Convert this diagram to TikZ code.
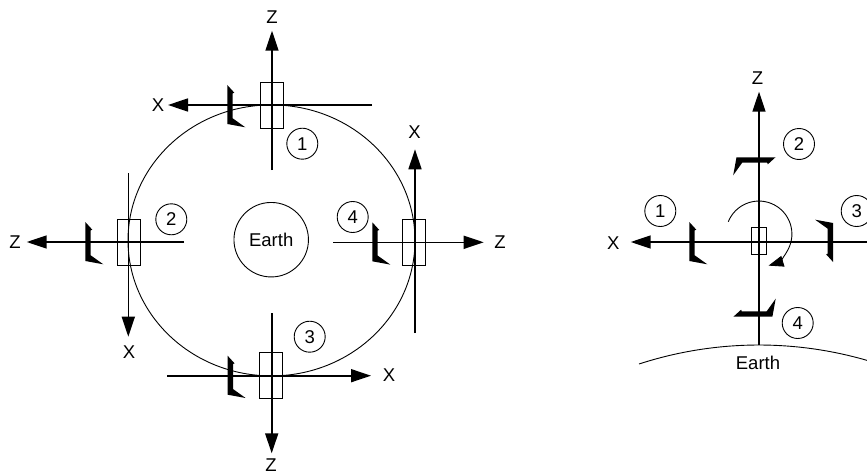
\documentclass[tikz,border=0pt]{standalone}
\usepackage{fontspec}
\setmainfont{Liberation Sans}
\usetikzlibrary{arrows.meta, shapes.geometric}
\tikzset{
  panel/.pic={\fill (-2.4,20) -- (4.6,12.3) -- (3,11.7) -- (3,-13.3) -- (15.6,-22.3) -- (-2.4,-19) -- cycle;}
}
\begin{document}
\begin{tikzpicture}[x=1pt, y=1pt,
  every node/.style={font=\fontsize{18.5}{20}\selectfont, inner sep=0pt},
  axis/.style={line width=1.6pt, -{Triangle[length=20pt, width=13pt]}},
  craft/.style={draw, line width=0.9pt, minimum width=23pt, minimum height=46pt},
  num/.style={draw, circle, line width=0.9pt, minimum size=31pt}]
\useasboundingbox (0,0) rectangle (867,475);
\clip (0,0) rectangle (867,475);
% orbit and earth
\node[draw, ellipse, line width=0.9pt, minimum width=287pt, minimum height=271pt] (orbit) at (271.5,234.6) {};
\node[draw, circle, line width=0.9pt, minimum size=74.5pt] (earth) at (271.2,235.3) {Earth};
% position 1, top
\node[craft] (box1) at (271.5,370) {};
\coordinate (x1a) at (372,370); \coordinate (x1b) at (168,370);
\coordinate (z1a) at (272,305); \coordinate (z1b) at (272,444.3);
\draw[axis] (x1a) -- (x1b);
\draw[axis] (z1a) -- (z1b);
\pic at (229.7,370) {panel};
\node (xlab1) at (158,370) {X};
\node (zlab1) at (272,458) {Z};
\node[num] (n1) at (302.3,331.3) {1};
% position 2, left
\node[craft] (box2) at (129,233) {};
\coordinate (x2a) at (128.3,301.7); \coordinate (x2b) at (128.3,138.3);
\coordinate (z2a) at (184,233); \coordinate (z2b) at (26.7,233);
\draw[axis] (x2a) -- (x2b);
\draw[axis] (z2a) -- (z2b);
\pic at (87.7,233) {panel};
\node (xlab2) at (129,123.3) {X};
\node (zlab2) at (15,233) {Z};
\node[num] (n2) at (171.3,255.7) {2};
% position 3, bottom
\node[craft] (box3) at (271.3,99.3) {};
\coordinate (x3a) at (167.3,99.3); \coordinate (x3b) at (371,99.3);
\coordinate (z3a) at (271.7,162); \coordinate (z3b) at (271.7,21.7);
\draw[axis] (x3a) -- (x3b);
\draw[axis] (z3a) -- (z3b);
\pic at (230,99.3) {panel};
\node (xlab3) at (389,100) {X};
\node (zlab3) at (271,9.5) {Z};
\node[num] (n3) at (309.7,138.3) {3};
% position 4, right
\node[craft] (box4) at (414,232.7) {};
\coordinate (x4a) at (415,142); \coordinate (x4b) at (415,325.7);
\coordinate (z4a) at (333.3,232.7); \coordinate (z4b) at (483.7,232.7);
\draw[axis] (x4a) -- (x4b);
\draw[axis] (z4a) -- (z4b);
\pic at (374.7,232.7) {panel};
\node (xlab4) at (414.5,342.7) {X};
\node (zlab4) at (500,233) {Z};
\node[num] (n4) at (352.7,258) {4};
% second view
\draw[line width=0.9pt] (639,111) arc[start angle=108, end angle=72, radius=388];
\node[craft, minimum width=15pt, minimum height=27pt] (box5) at (759.2,234) {};
\coordinate (x5a) at (867,233); \coordinate (x5b) at (630.7,233);
\coordinate (z5a) at (759,130); \coordinate (z5b) at (759,383.3);
\draw[axis] (x5a) -- (x5b);
\draw[axis] (z5a) -- (z5b);
\node (xlab5) at (613.3,232) {X};
\node (zlab5) at (757.5,397) {Z};
\node (earthlab) at (758,111.7) {Earth};
\pic at (691.7,233) {panel};
\pic[rotate=-90] at (755.5,315.3) {panel};
\pic[rotate=180] at (830.7,233) {panel};
\pic[rotate=90] at (753.4,160.7) {panel};
\node[num] (m1) at (660.3,264) {1};
\node[num] (m2) at (799,331) {2};
\node[num] (m3) at (856.7,264) {3};
\node[num] (m4) at (797.7,152) {4};
% sense of rotation
\draw[line width=0.9pt, -{Triangle[length=15pt, width=11pt]}] (728.3,253.3) arc[start angle=158, end angle=-73, radius=33];
\end{tikzpicture}
\end{document}
